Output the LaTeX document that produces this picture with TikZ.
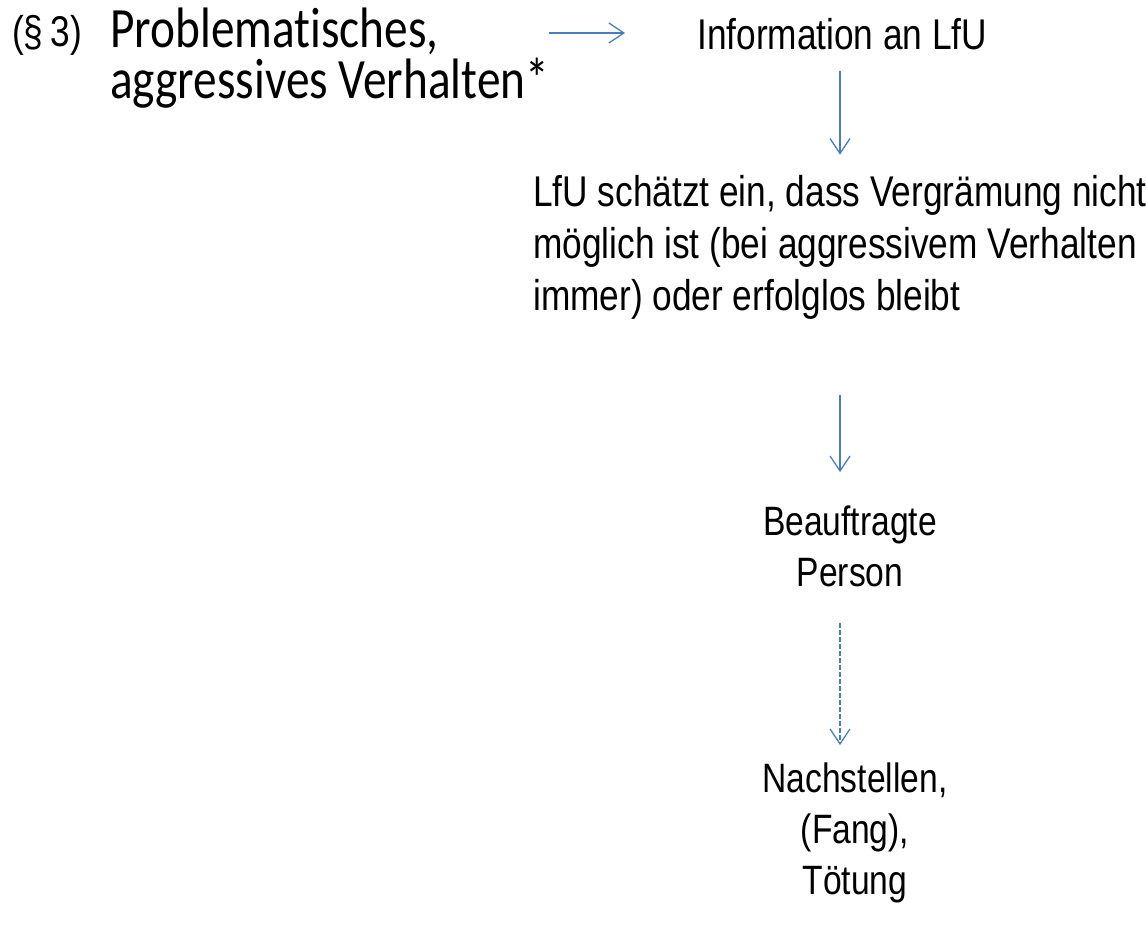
\documentclass[tikz,border=0pt]{standalone}
\usepackage{fontspec}
\setmainfont{Liberation Sans}[FakeStretch=0.82]
\newfontfamily\calibri{Carlito}[FakeStretch=0.83,Ligatures=NoCommon]
\usetikzlibrary{arrows.meta,positioning}
\definecolor{arrowblue}{RGB}{74,126,187}

\begin{document}
\begin{tikzpicture}[x=1pt,y=-1pt,inner sep=0pt,
  arr/.style={draw=arrowblue,line width=1.3pt,-{Straight Barb[length=15pt,width=20pt]}},
  big/.style={font=\fontsize{43}{52}\selectfont},
  small/.style={font=\fontsize{41}{51}\selectfont}]
\useasboundingbox (0,0) rectangle (1146,934);

% multi-line nodes: base = baseline of last line
\node[big,anchor=base west] (par) at (12,47) {(§\,3)};
\node[anchor=base west,align=left,font=\calibri\fontsize{57}{51}\selectfont] (prob) at (110,98) {Problematisches,\\aggressives Verhalten*};
\node[big,anchor=base west] (info) at (697,49) {Information an LfU};
\node[big,anchor=base west,align=left] (lfu) at (533,310) {LfU schätzt ein, dass Vergrämung nicht\\möglich ist (bei aggressivem Verhalten\\immer) oder erfolglos bleibt};
\node[small,anchor=base,align=center] (bp) at (850,586) {Beauftragte\\Person};
\node[small,anchor=base,align=center] (nft) at (855,894) {Nachstellen,\\(Fang),\\Tötung};

\coordinate (hy) at (0,33);
\coordinate (xa) at (840,0);
\draw[arr,shorten >=72pt] (prob.east |- hy) -- (info.west |- hy);
\draw[arr,shorten <=21pt,shorten >=20pt] (info.south -| xa) -- (lfu.north -| xa);
\draw[arr,shorten <=76pt,shorten >=33pt] (lfu.south -| xa) -- (bp.north -| xa);
\draw[arr,dash pattern=on 5pt off 2pt,shorten <=36pt,shorten >=17pt] (bp.south -| xa) -- (nft.north -| xa);
\end{tikzpicture}
\end{document}
